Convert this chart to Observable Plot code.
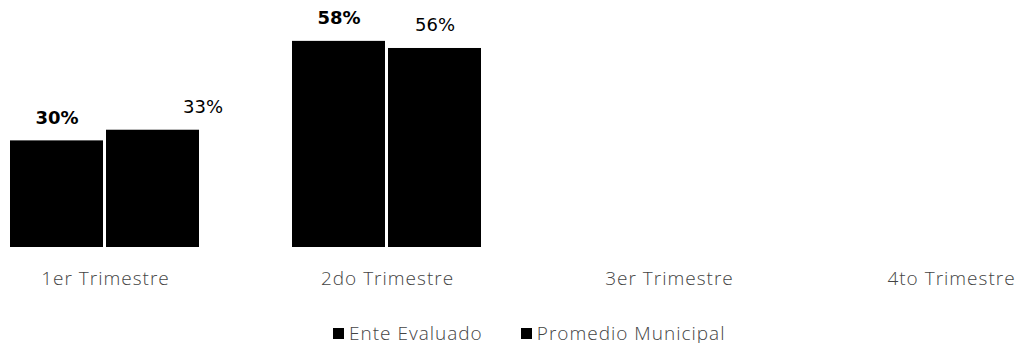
<!DOCTYPE html>
<html>
<head>
<meta charset="utf-8">
<script src="https://cdn.jsdelivr.net/npm/d3@7"></script>
<script src="https://cdn.jsdelivr.net/npm/@observablehq/plot@0.6"></script>
<style>
  body { margin: 0; background: #fff; }
  #chart { width: 1018px; }
  g[aria-label="fx-axis tick label"] { letter-spacing: 1px; }
  .legend { display: flex; justify-content: flex-start; margin-top: 29px; padding-left: 333px; font-family: "Open Sans", sans-serif; font-weight: 300; font-size: 19px; letter-spacing: 1px; color: #444; line-height: 19px; }
  .legend .item { display: flex; align-items: center; margin-right: 38px; }
  .legend .sw { width: 11px; height: 11px; background: #000; margin-right: 5px; }
</style>
</head>
<body>
<div id="chart"></div>
<script>
const quarters = ["1er Trimestre", "2do Trimestre", "3er Trimestre", "4to Trimestre"];
const series = ["Ente Evaluado", "Promedio Municipal"];
const ente = [30, 58, null, null];
const promedio = [33, 56, null, null];

const rows = [];
quarters.forEach((q, i) => {
  if (ente[i] != null) rows.push({quarter: q, series: series[0], value: ente[i]});
  if (promedio[i] != null) rows.push({quarter: q, series: series[1], value: promedio[i]});
});

const plot = Plot.plot({
  width: 1018,
  height: 295,
  marginTop: 16,
  marginBottom: 48,
  marginLeft: 0,
  marginRight: 0,
  style: {background: "#fff"},
  fx: {domain: quarters, range: [10, 1046], paddingInner: 0.327, paddingOuter: 0},
  x: {domain: series, axis: null, paddingInner: 0.03, paddingOuter: 0},
  y: {domain: [0, 65], axis: null},
  marks: [
    Plot.barY(rows, {fx: "quarter", x: "series", y: "value", fill: "#000"}),
    Plot.text(rows.filter(d => d.series === series[0]), {
      fx: "quarter", x: "series", y: "value", dy: -23,
      text: d => `${d.value}%`, fontSize: 18, fontWeight: "bold",
      fontFamily: "DejaVu Sans", fill: "#000"
    }),
    Plot.text(rows.filter(d => d.series === series[1] && d.quarter !== quarters[0]), {
      fx: "quarter", x: "series", y: "value", dy: -23,
      text: d => `${d.value}%`, fontSize: 18, fontWeight: "normal",
      fontFamily: "DejaVu Sans", fill: "#000"
    }),
    Plot.text(rows.filter(d => d.series === series[1] && d.quarter === quarters[0]), {
      fx: "quarter", x: "series", y: "value", dy: -23, dx: 50,
      text: d => `${d.value}%`, fontSize: 18, fontWeight: "normal",
      fontFamily: "DejaVu Sans", fill: "#000"
    }),
    Plot.axisFx({anchor: "bottom", tickSize: 0, tickPadding: 24, fontSize: 19,
      fontWeight: 300, fontFamily: "Open Sans", fill: "#444", label: null})
  ]
});
document.getElementById("chart").appendChild(plot);

const legend = document.createElement("div");
legend.className = "legend";
series.forEach(s => {
  const item = document.createElement("div");
  item.className = "item";
  const sw = document.createElement("span");
  sw.className = "sw";
  const lbl = document.createElement("span");
  lbl.textContent = s;
  item.appendChild(sw);
  item.appendChild(lbl);
  legend.appendChild(item);
});
document.getElementById("chart").appendChild(legend);
</script>
</body>
</html>
